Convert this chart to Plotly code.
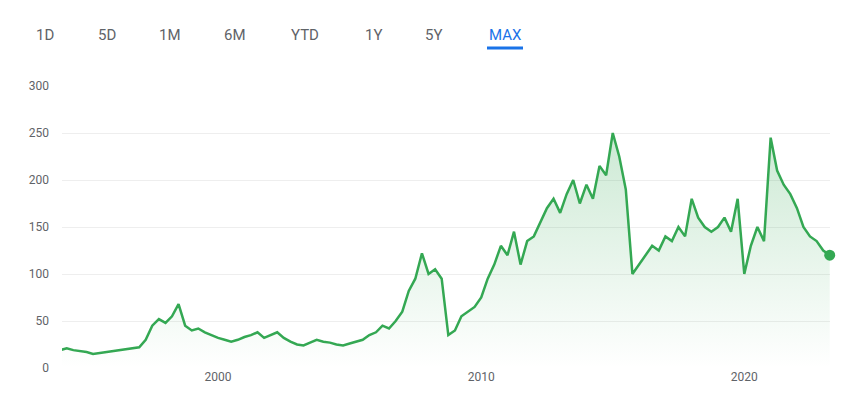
import plotly.graph_objects as go
import pandas as pd

values = [19,21,19,18, 17,15,16,17, 18,19,20,21, 22,30,45,52, 48,55,68,45,
          40,42,38,35, 32,30,28,30, 33,35,38,32, 35,38,32,28, 25,24,27,30,
          28,27,25,24, 26,28,30,35, 38,45,42,50, 60,82,95,122, 100,105,95,35,
          40,55,60,65, 75,95,110,130, 120,145,110,135, 140,155,170,180,
          165,185,200,175, 195,180,215,205, 250,225,190,100, 110,120,130,125,
          140,135,150,140, 180,160,150,145, 150,160,145,180, 100,130,150,135,
          245,210,195,185, 170,150,140,135, 125,120]
dates = pd.date_range("1994-01-01", periods=len(values), freq="QS")
buttons = ["1D", "5D", "1M", "6M", "YTD", "1Y", "5Y", "MAX"]
button_px = [37, 99, 162, 227, 297, 365, 425, 497]

W, H, L, R, T, B = 858, 416, 54, 36, 78, 56
pw, ph = W - L - R, H - T - B

fig = go.Figure()
fig.add_trace(go.Scatter(x=dates, y=values, mode="lines",
    line=dict(color="#34a853", width=2.5), fill="tozeroy",
    fillgradient=dict(type="vertical", colorscale=[[0, "rgba(52,168,83,0)"], [1, "rgba(52,168,83,0.25)"]]),
    hoverinfo="skip"))
fig.add_trace(go.Scatter(x=[dates[-1]], y=[values[-1]], mode="markers",
    marker=dict(color="#34a853", size=11), hoverinfo="skip", cliponaxis=False))

for b, px in zip(buttons, button_px):
    fig.add_annotation(text=b, x=(px - L) / pw, y=1 + (T - 27) / ph, xref="paper", yref="paper",
        xanchor="center", yanchor="middle", showarrow=False,
        font=dict(size=15, color="#1a73e8" if b == "MAX" else "#5f6368"))
fig.add_shape(type="line", xref="paper", yref="paper",
    x0=(479 - L) / pw, x1=(515 - L) / pw, y0=1 + (T - 40) / ph, y1=1 + (T - 40) / ph,
    line=dict(color="#1a73e8", width=3))

fig.update_layout(width=W, height=H, margin=dict(l=L, r=R, t=T, b=B),
    paper_bgcolor="white", plot_bgcolor="white", showlegend=False,
    font=dict(family="Roboto", color="#5f6368", size=12),
    xaxis=dict(range=["1994-01-25", "2023-04-05"], showgrid=False, ticks="",
               tickvals=["2000-01-01", "2010-01-01", "2020-01-01"], ticktext=["2000", "2010", "2020"],
               showline=False),
    yaxis=dict(range=[0, 300], tickvals=[0, 50, 100, 150, 200, 250, 300],
               gridcolor="#eeeeee", zeroline=False, ticklabelstandoff=12))
fig.write_html("out.html")
